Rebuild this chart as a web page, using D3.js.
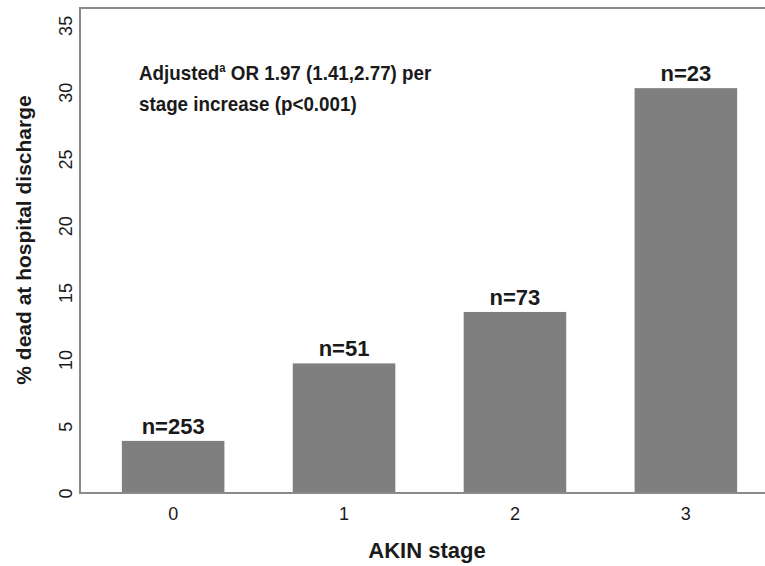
<!DOCTYPE html>
<html>
<head>
<meta charset="utf-8">
<script src="https://cdn.jsdelivr.net/npm/d3@7"></script>
<style>
	body { margin: 0; background: #fff; }
	text { font-family: "Liberation Sans", Arial, sans-serif; fill: #1a1a1a; }
	.n-label, .note, .axis-label { font-weight: bold; }
</style>
</head>
<body>
<svg id="chart" width="765" height="566"></svg>
<script>
// data
const stages = ['0', '1', '2', '3'];
const pctDead = [3.9, 9.7, 13.55, 30.3];
const nLabels = ['n=253', 'n=51', 'n=73', 'n=23'];
const yTicks = [0, 5, 10, 15, 20, 25, 30, 35];

const svg = d3.select('#chart');
const width = +svg.attr('width');

const margin = { top: 8, left: 80, bottom: 493 };

// x band: right end runs past the picture edge (figure is cropped)
const xScale = d3.scaleBand()
	.domain(stages)
	.range([margin.left, 779])
	.paddingInner(0.4)
	.paddingOuter(0.245);

const yScale = d3.scaleLinear()
	.domain([0, 36.3])
	.range([margin.bottom, margin.top]);

const data = stages.map((s, i) => ({ stage: s, value: pctDead[i], n: nLabels[i] }));

// bars
svg.selectAll('rect.bar').data(data)
	.enter().append('rect')
		.attr('class', 'bar')
		.attr('x', d => xScale(d.stage))
		.attr('y', d => yScale(d.value))
		.attr('width', xScale.bandwidth())
		.attr('height', d => yScale(0) - yScale(d.value))
		.attr('fill', '#7f7f7f');

// n labels above bars
svg.selectAll('text.n-label').data(data)
	.enter().append('text')
		.attr('class', 'n-label')
		.attr('x', d => xScale(d.stage) + xScale.bandwidth() / 2)
		.attr('y', d => yScale(d.value) - 7)
		.attr('text-anchor', 'middle')
		.attr('font-size', 22)
		.text(d => d.n);

// frame: left, top and bottom lines only
const frame = svg.append('g').attr('stroke', '#8a8a8a').attr('stroke-width', 2).attr('fill', 'none');
frame.append('path').attr('d', `M${width},${margin.top}H${margin.left}V${margin.bottom}H${width}`);

// y axis (labels only, rotated)
const yAxis = d3.axisLeft(yScale).tickValues(yTicks).tickSize(0).tickPadding(0);
const yAxisG = svg.append('g')
	.attr('transform', `translate(${margin.left},0)`)
	.call(yAxis);
yAxisG.select('.domain').remove();
yAxisG.selectAll('text')
	.attr('font-size', 18)
	.attr('font-family', '"Liberation Sans", Arial, sans-serif')
	.attr('fill', '#2a2a2a')
	.attr('text-anchor', 'middle')
	.attr('dy', null)
	.attr('x', null)
	.attr('transform', 'translate(-8,0) rotate(-90)');

// x axis (labels only)
const xAxis = d3.axisBottom(xScale).tickSize(0).tickPadding(0);
const xAxisG = svg.append('g')
	.attr('transform', `translate(0,${margin.bottom})`)
	.call(xAxis);
xAxisG.select('.domain').remove();
xAxisG.selectAll('text')
	.attr('font-size', 18)
	.attr('font-family', '"Liberation Sans", Arial, sans-serif')
	.attr('fill', '#2a2a2a')
	.attr('dy', null)
	.attr('y', 27);

// axis titles
svg.append('text')
	.attr('class', 'axis-label')
	.attr('transform', 'translate(31,240) rotate(-90)')
	.attr('text-anchor', 'middle')
	.attr('font-size', 21)
	.text('% dead at hospital discharge');

svg.append('text')
	.attr('class', 'axis-label')
	.attr('x', 427)
	.attr('y', 558)
	.attr('text-anchor', 'middle')
	.attr('font-size', 22)
	.text('AKIN stage');

// annotation (slightly narrow letters, like the reference)
const note = svg.append('text')
	.attr('class', 'note')
	.attr('transform', 'translate(139,0) scale(0.94,1)')
	.attr('x', 0)
	.attr('y', 80)
	.attr('font-size', 20);
note.append('tspan').text('Adjusted');
note.append('tspan').attr('font-size', 12).attr('dy', -8).text('a');
note.append('tspan').attr('dy', 8).text(' OR 1.97 (1.41,2.77) per');
note.append('tspan').attr('x', 0).attr('y', 111).text('stage increase (p<0.001)');
</script>
</body>
</html>
